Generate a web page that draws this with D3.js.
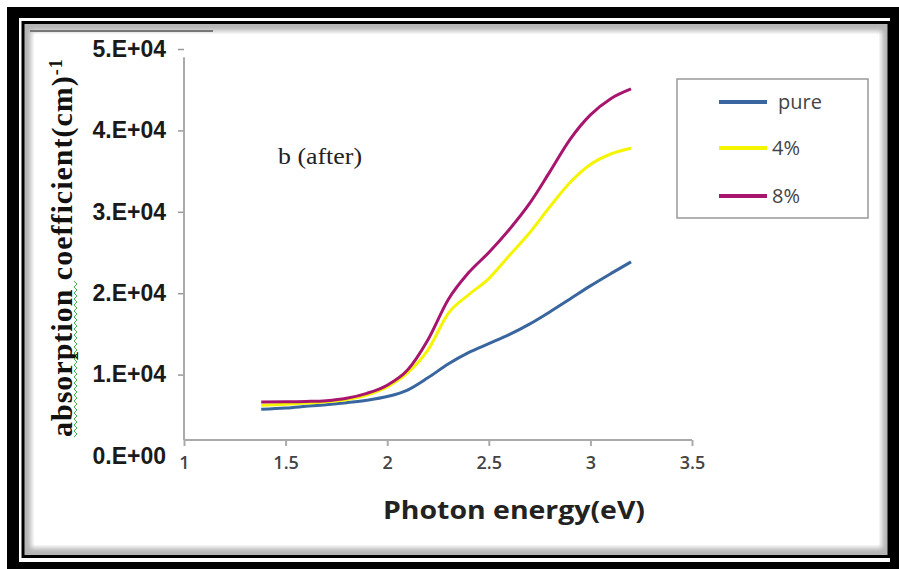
<!DOCTYPE html>
<html>
<head>
<meta charset="utf-8">
<script src="https://cdn.jsdelivr.net/npm/d3@7"></script>
<style>
  body { margin: 0; background: #fff; }
  svg { display: block; }
</style>
</head>
<body>
<div id="chart"></div>
<script>
// photon energy (eV) and absorption coefficient
var energy = [1.38, 1.5, 1.6, 1.7, 1.8, 1.9, 2.0, 2.1, 2.2, 2.3, 2.4, 2.5, 2.6, 2.7, 2.8, 2.9, 3.0, 3.1, 3.2];
var pure   = [5740, 5900, 6100, 6300, 6550, 6850, 7300, 8100, 9600, 11300, 12700, 13800, 14900, 16200, 17700, 19300, 20900, 22400, 23850];
var pct4   = [6230, 6350, 6500, 6650, 6950, 7500, 8500, 10200, 13000, 17500, 19800, 21800, 24600, 27400, 30600, 33600, 35800, 37100, 37800];
var pct8   = [6630, 6650, 6700, 6800, 7100, 7700, 8700, 10560, 14250, 19200, 22500, 25000, 27800, 31000, 34900, 38900, 41900, 43900, 45100];

var seriesNames  = ["pure", "4%", "8%"];
var seriesColors = ["#3a66a0", "#f5f500", "#a8156e"];

var xTicks = [1, 1.5, 2, 2.5, 3, 3.5];
var xTickLabels = ["1", "1.5", "2", "2.5", "3", "3.5"];
var yTicks = [0, 10000, 20000, 30000, 40000, 50000];
var yTickLabels = ["0.E+00", "1.E+04", "2.E+04", "3.E+04", "4.E+04", "5.E+04"];

var W = 899, H = 569;
var axisY = 440;   // where the x axis line sits

var svg = d3.select("#chart").append("svg")
    .attr("width", W)
    .attr("height", H);

var defs = svg.append("defs");
defs.append("filter").attr("id", "soft")
    .append("feGaussianBlur").attr("stdDeviation", 2.5);

// picture frame
svg.append("rect").attr("x", 7).attr("y", 7).attr("width", W - 7).attr("height", H - 7).attr("fill", "#000");
svg.append("rect").attr("x", 19).attr("y", 18).attr("width", 871).attr("height", 544).attr("fill", "#fff");
svg.append("rect").attr("x", 23).attr("y", 22.5).attr("width", 866).attr("height", 534)
    .attr("fill", "#b5b5b5").attr("stroke", "#000").attr("stroke-width", 3);
svg.append("rect").attr("x", 31).attr("y", 31).attr("width", 851).attr("height", 517)
    .attr("fill", "#fff").attr("filter", "url(#soft)");
svg.append("rect").attr("x", 34).attr("y", 34).attr("width", 845).attr("height", 511).attr("fill", "#fff");
svg.append("line").attr("x1", 30).attr("x2", 213).attr("y1", 31).attr("y2", 31)
    .attr("stroke", "#777").attr("stroke-width", 2);

var x = d3.scaleLinear().domain([1, 3.5]).range([184, 692]);
var y = d3.scaleLinear().domain([0, 50000]).range([456, 49]);

// y axis
var yAxis = svg.append("g")
    .attr("transform", "translate(184,0)")
    .call(d3.axisLeft(y)
        .tickValues(yTicks)
        .tickSize(6)
        .tickPadding(12)
        .tickFormat(function(d, i) { return yTickLabels[i]; }));
yAxis.select(".domain").remove();
yAxis.selectAll(".tick line").attr("stroke", "#999").attr("stroke-width", 1.5);
yAxis.selectAll(".tick").filter(function(d) { return d === 0; }).select("line").remove();
yAxis.selectAll("text")
    .attr("fill", "#1a1a1a")
    .style("font-family", "'Liberation Sans', Arial, sans-serif")
    .style("font-weight", "bold")
    .style("font-size", "23px");
svg.append("line")
    .attr("x1", 184).attr("x2", 184)
    .attr("y1", y(49000)).attr("y2", axisY)
    .attr("stroke", "#aaa").attr("stroke-width", 2);

// x axis
var xAxis = svg.append("g")
    .attr("transform", "translate(0," + axisY + ")")
    .call(d3.axisBottom(x)
        .tickValues(xTicks)
        .tickSize(6)
        .tickPadding(10)
        .tickFormat(function(d, i) { return xTickLabels[i]; }));
xAxis.select(".domain").attr("stroke", "#aaa").attr("stroke-width", 2)
    .attr("d", "M" + x(1) + ",0H" + x(3.5));
xAxis.selectAll(".tick line").attr("stroke", "#aaa").attr("stroke-width", 2);
xAxis.selectAll("text")
    .attr("fill", "#444")
    .style("font-family", "'Open Sans', sans-serif")
    .style("font-weight", "600")
    .style("font-size", "18px");

// curves
var allSeries = [pure, pct4, pct8];
var line = d3.line()
    .x(function(d, i) { return x(energy[i]); })
    .y(function(d) { return y(d); })
    .curve(d3.curveMonotoneX);

svg.selectAll(".curve")
    .data(allSeries)
    .enter()
    .append("path")
        .attr("class", "curve")
        .attr("d", line)
        .attr("fill", "none")
        .attr("stroke", function(d, i) { return seriesColors[i]; })
        .attr("stroke-width", 3);

// legend
svg.append("rect")
    .attr("x", 677).attr("y", 79).attr("width", 191).attr("height", 139)
    .attr("fill", "#fff").attr("stroke", "#999").attr("stroke-width", 1.5);
var legendY = [102, 148, 196];
var leg = svg.selectAll(".leg")
    .data(seriesNames)
    .enter()
    .append("g")
        .attr("class", "leg")
        .attr("transform", function(d, i) { return "translate(0," + legendY[i] + ")"; });
leg.append("line")
    .attr("x1", 719).attr("x2", 767)
    .attr("stroke", function(d, i) { return seriesColors[i]; })
    .attr("stroke-width", 4);
leg.append("text")
    .attr("x", function(d, i) { return i === 0 ? 778 : 772; })
    .attr("dy", "0.35em")
    .attr("fill", "#444")
    .style("font-family", "'Open Sans', sans-serif")
    .style("font-size", "20px")
    .text(function(d) { return d; });

// annotation
svg.append("text")
    .attr("x", 278).attr("y", 164)
    .attr("textLength", 84).attr("lengthAdjust", "spacingAndGlyphs")
    .style("font-family", "'Liberation Serif', 'Times New Roman', serif")
    .style("font-size", "23px")
    .attr("fill", "#222")
    .text("b (after)");

// axis titles
svg.append("text")
    .attr("x", 514).attr("y", 519)
    .attr("text-anchor", "middle")
    .attr("textLength", 262).attr("lengthAdjust", "spacingAndGlyphs")
    .style("font-family", "'Open Sans', sans-serif")
    .style("font-weight", "bold")
    .style("font-size", "25px")
    .attr("fill", "#222")
    .text("Photon energy(eV)");

var yTitle = svg.append("text")
    .attr("transform", "translate(72,437)rotate(-90)")
    .style("font-family", "'Liberation Serif', 'Times New Roman', serif")
    .style("font-weight", "bold")
    .style("font-size", "30px")
    .style("letter-spacing", "1px")
    .attr("fill", "#111");
yTitle.append("tspan").text("absorption coefficient(cm)");
yTitle.append("tspan").attr("dy", "-0.55em").style("font-size", "18px").text("-1");

// spell-check squiggle under "absorption"
var sq = [];
for (var k = 0; k <= 52; k++) sq.push([k % 2 === 0 ? 74 : 77, 437 - k * 3]);
svg.append("path")
    .attr("d", d3.line()(sq))
    .attr("fill", "none")
    .attr("stroke", "#4caf50")
    .attr("stroke-width", 1);
</script>
</body>
</html>
